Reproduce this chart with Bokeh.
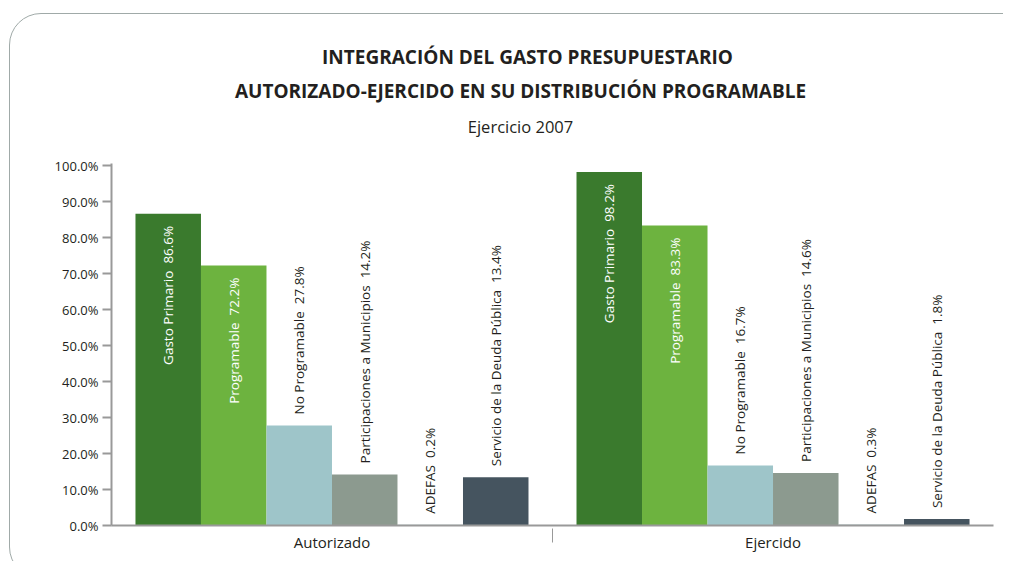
import math
from bokeh.plotting import figure
from bokeh.models import (FactorRange, ColumnDataSource, LabelSet, Label, FixedTicker,
                          PrintfTickFormatter, Range1d, InlineStyleSheet)
from bokeh.core.properties import value
from bokeh.embed import file_html
from bokeh.resources import INLINE

groups = ["Autorizado", "Ejercido"]
categories = ["Gasto Primario", "Programable", "No Programable",
              "Participaciones a Municipios", "ADEFAS", "Servicio de la Deuda Pública"]
autorizado = [86.6, 72.2, 27.8, 14.2, 0.2, 13.4]
ejercido = [98.2, 83.3, 16.7, 14.6, 0.3, 1.8]
colors = ["#3a7a2d", "#6db33f", "#9ec5c9", "#8c9a8f", "#a9c1c3", "#45545f"]
y_ticks = [0, 10, 20, 30, 40, 50, 60, 70, 80, 90, 100]
title1 = "INTEGRACIÓN DEL GASTO PRESUPUESTARIO"
title2 = "AUTORIZADO-EJERCIDO EN SU DISTRIBUCIÓN PROGRAMABLE"
subtitle = "Ejercicio 2007"

FONT = "Open Sans"
TXT = "#231f20"

factors = [(g, c) for g in groups for c in categories]
values = autorizado + ejercido
fills = colors + colors
labels = [f"{c}\u00a0 {v:.1f}%" for (g, c), v in zip(factors, values)]

x_range = FactorRange(*factors, factor_padding=0, group_padding=0.733,
                      range_padding=0.366, range_padding_units="absolute")

# frame extends up to hold the titles; the axis line is bounded to 0-100 %
p = figure(width=1003, height=561, x_range=x_range, y_range=Range1d(0, 140.28),
           output_backend="svg", toolbar_location=None,
           min_border_left=111, min_border_right=10, min_border_top=20, min_border_bottom=36)
box_css = InlineStyleSheet(css="""
:host { overflow: hidden; }
:host::after { content: ''; position: absolute; left: 9px; top: 13px; width: 1028px; height: 566px;
  border: 1.5px solid #a0aaa8; border-radius: 32px; pointer-events: none; box-sizing: border-box; }
""")
p.stylesheets = [box_css]
p.outline_line_color = None
p.xgrid.grid_line_color = None
p.ygrid.grid_line_color = None
p.background_fill_color = "white"
p.border_fill_color = "white"

src = ColumnDataSource(dict(x=factors, top=values, color=fills, label=labels))
p.vbar(x="x", top="top", width=1.0, fill_color="color", line_color=None, source=src)

inside = [i for i, v in enumerate(values) if v > 50]
outside = [i for i, v in enumerate(values) if v <= 50]
src_in = ColumnDataSource(dict(x=[factors[i] for i in inside], y=[values[i] for i in inside],
                               label=[labels[i] for i in inside]))
src_out = ColumnDataSource(dict(x=[factors[i] for i in outside], y=[values[i] for i in outside],
                                label=[labels[i] for i in outside]))
p.add_layout(LabelSet(x="x", y="y", text="label", source=src_in, angle=math.pi / 2,
                      text_align="right", text_baseline="middle", y_offset=-12,
                      text_color="white", text_font=value(FONT), text_font_size="13.5px"))
p.add_layout(LabelSet(x="x", y="y", text="label", source=src_out, angle=math.pi / 2,
                      text_align="left", text_baseline="middle", y_offset=11,
                      text_color=TXT, text_font=value(FONT), text_font_size="13.5px"))

# y axis
ya = p.yaxis[0]
ya.ticker = FixedTicker(ticks=y_ticks)
ya.bounds = (0, 100.56)
ya.formatter = PrintfTickFormatter(format="%.1f%%")
ya.axis_line_color = "#999999"
ya.axis_line_width = 2
ya.major_tick_line_color = "#999999"
ya.major_tick_line_width = 2
ya.major_tick_out = 9
ya.major_tick_in = 0
ya.minor_tick_line_color = None
ya.major_label_standoff = 4
ya.major_label_text_font = FONT
ya.major_label_text_font_size = "13px"
ya.major_label_text_color = TXT

# x axis
xa = p.xaxis[0]
xa.axis_line_color = "#999999"
xa.axis_line_width = 2
xa.major_tick_line_color = None
xa.minor_tick_line_color = None
xa.major_label_standoff = 0
xa.major_label_text_font_size = "0px"
xa.major_label_text_color = None
xa.group_text_font = FONT
xa.group_text_font_size = "15px"
xa.group_text_color = TXT
xa.group_text_font_style = "normal"
xa.separator_line_color = "#999999"
xa.separator_line_width = 1

# titles, placed in screen pixels relative to the plot frame (origin bottom-left)
p.add_layout(Label(x=416, y=469, x_units="screen", y_units="screen", text=title1,
                   text_align="center", text_baseline="middle", text_font=FONT,
                   text_font_style="bold", text_font_size="19px", text_color=TXT))
p.add_layout(Label(x=409, y=435, x_units="screen", y_units="screen", text=title2,
                   text_align="center", text_baseline="middle", text_font=FONT,
                   text_font_style="bold", text_font_size="19px", text_color=TXT))
p.add_layout(Label(x=409, y=399, x_units="screen", y_units="screen", text=subtitle,
                   text_align="center", text_baseline="middle", text_font=FONT,
                   text_font_size="16.5px", text_color=TXT))

open("out.html", "w").write(file_html(p, INLINE))
